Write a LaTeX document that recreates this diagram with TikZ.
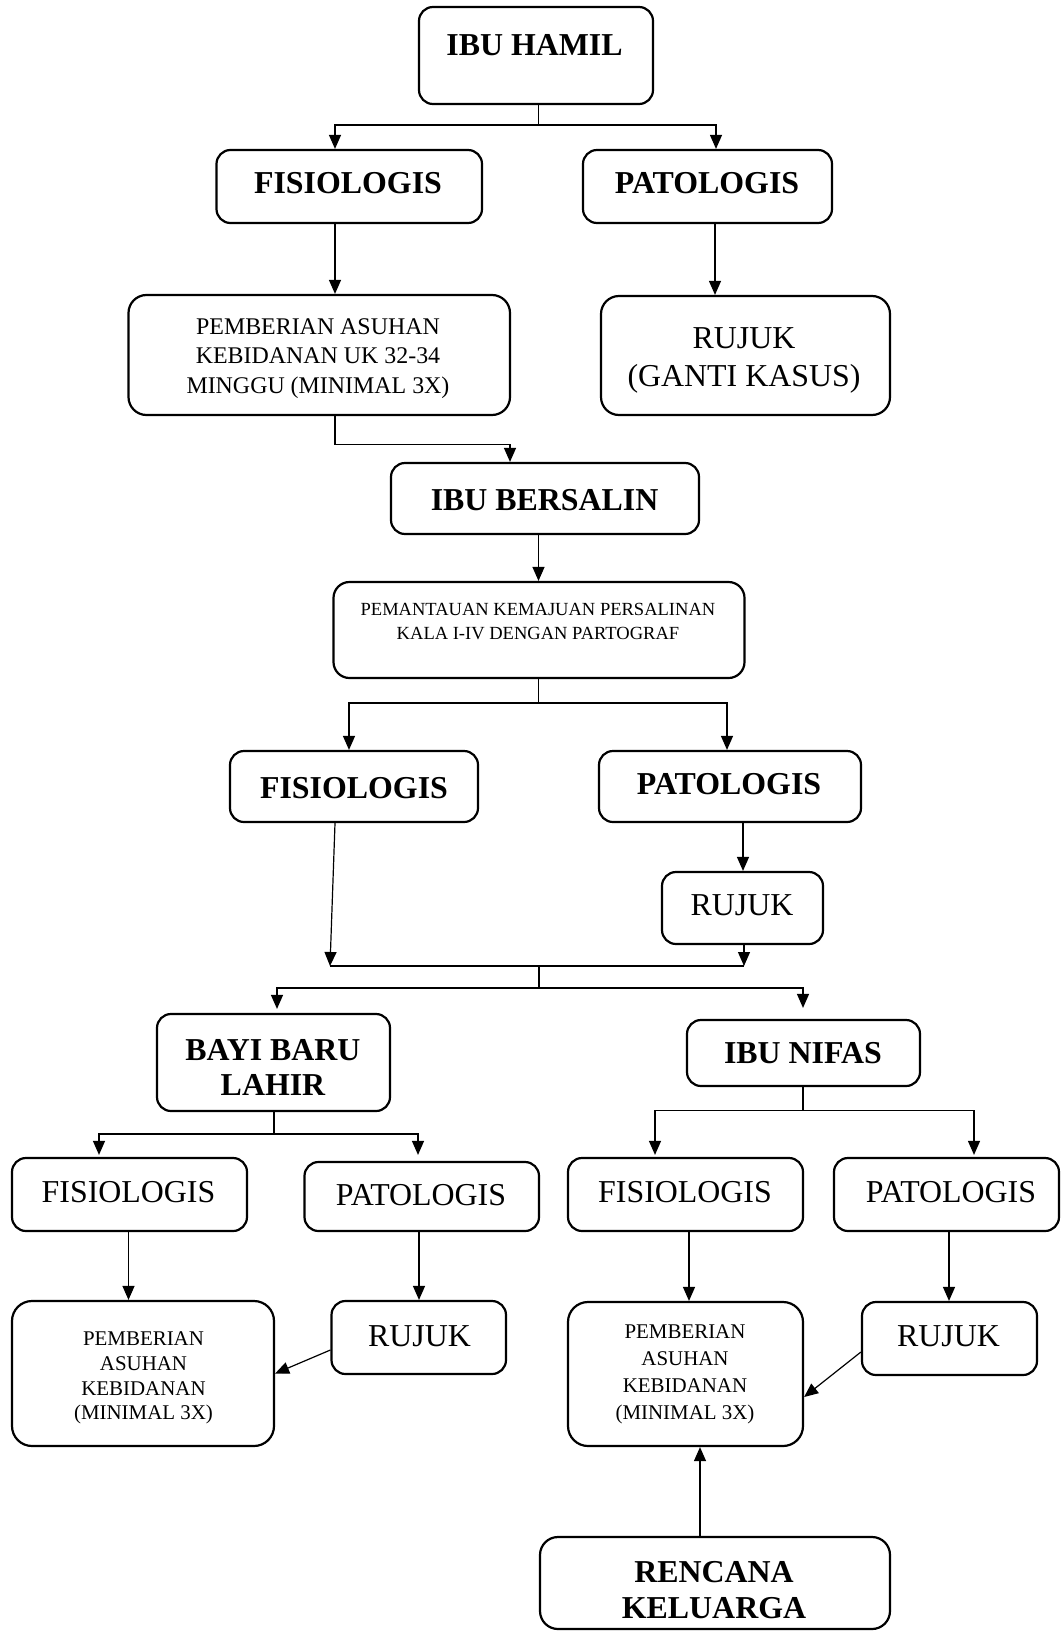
\documentclass[tikz,border=0pt]{standalone}
\usepackage{fontspec}
\setmainfont{Liberation Serif}
\usetikzlibrary{arrows.meta}
\newcommand\fB{\fontsize{32}{36}\selectfont\bfseries}
\newcommand\fR{\fontsize{32}{39}\selectfont}
\newcommand\fM{\fontsize{24}{29.5}\selectfont}
\newcommand\fS{\fontsize{18.6}{24}\selectfont}
\newcommand\fP{\fontsize{21}{24.7}\selectfont}
\newcommand\fQ{\fontsize{21}{27}\selectfont}
\newcommand\bx[6][14bp]{\node[box,rounded corners=#1,minimum width=#5bp,minimum height=#6bp] (#2) at (#3,#4) {};}
\tikzset{
  box/.style={draw, line width=2.2bp, inner sep=0pt, fill=white},
  txt/.style={align=center, inner sep=0pt},
  ln/.style={line width=1.2bp},
  arr/.style={line width=1.2bp, -{Triangle[length=14bp,width=12bp]}}
}
\begin{document}
\begin{tikzpicture}[x=1bp,y=-1bp]
\useasboundingbox[fill=white] (0,0) rectangle (1061,1631);
% boxes
\bx{hamil}{536}{55.5}{234}{97}
\bx{fis1}{349.25}{186.5}{265.5}{73}
\bx{pat1}{707.5}{186.5}{249}{73}
\bx[18bp]{pem1}{319.25}{355}{381.5}{120}
\bx[18bp]{rujgk}{745.5}{355.5}{289}{119}
\bx{bers}{545}{498.5}{308}{71}
\bx[16bp]{pant}{539}{630}{411}{96}
\bx{fis2}{354}{786.5}{248}{71}
\bx{pat2}{730}{786.5}{262}{71}
\bx{ruj2}{742.5}{908}{161}{72}
\bx{bayi}{273.5}{1062.5}{233}{97}
\bx{nifas}{803.5}{1053}{233}{66}
\bx{fis3}{129.5}{1194.5}{235}{73}
\bx{pat3}{421.75}{1196.5}{234.5}{69}
\bx{fis4}{685.5}{1194.5}{235}{73}
\bx{pat4}{946.5}{1194.5}{225}{73}
\bx[20bp]{pem2}{143}{1373.5}{262}{145}
\bx{ruj3}{418.75}{1337.5}{174.5}{73}
\bx[20bp]{pem3}{685.5}{1374}{235}{144}
\bx{ruj4}{949.5}{1338.5}{175}{73}
\bx[18bp]{renc}{715}{1583}{350}{92}
% texts
\node[txt,font=\fB] (tHamil) at (534.5,45) {IBU HAMIL};
\node[txt,font=\fB] (tFis1) at (348,183) {FISIOLOGIS};
\node[txt,font=\fB] (tPat1) at (707,183) {PATOLOGIS};
\node[txt,font=\fM] (tPem1) at (318,358.5) {PEMBERIAN ASUHAN\\KEBIDANAN UK 32-34\\MINGGU (MINIMAL 3X)};
\node[txt,font=\fR] (tRujgk) at (744,360.5) {RUJUK\\(GANTI KASUS)};
\node[txt,font=\fB] (tBers) at (544.6,500) {IBU BERSALIN};
\node[txt,font=\fS] (tPant) at (538,621.6) {PEMANTAUAN KEMAJUAN PERSALINAN\\KALA I-IV DENGAN PARTOGRAF};
\node[txt,font=\fB] (tFis2) at (354,788) {FISIOLOGIS};
\node[txt,font=\fB] (tPat2) at (729,784) {PATOLOGIS};
\node[txt,font=\fR] (tRuj2) at (742,905) {RUJUK};
\node[txt,font=\fB] (tBayi) at (273,1067.5) {BAYI BARU\\LAHIR};
\node[txt,font=\fB] (tNifas) at (803,1053) {IBU NIFAS};
\node[txt,font=\fR] (tFis3) at (128.5,1192) {FISIOLOGIS};
\node[txt,font=\fR] (tPat3) at (421,1195) {PATOLOGIS};
\node[txt,font=\fR] (tFis4) at (685,1192) {FISIOLOGIS};
\node[txt,font=\fR] (tPat4) at (951,1192) {PATOLOGIS};
\node[txt,font=\fP] (tPem2) at (143.5,1378) {PEMBERIAN\\ASUHAN\\KEBIDANAN\\(MINIMAL 3X)};
\node[txt,font=\fR] (tRuj3) at (419.5,1336) {RUJUK};
\node[txt,font=\fQ] (tPem3) at (685,1374.5) {PEMBERIAN\\ASUHAN\\KEBIDANAN\\(MINIMAL 3X)};
\node[txt,font=\fR] (tRuj4) at (948.5,1336) {RUJUK};
\node[txt,font=\fB] (tRenc) at (714,1590) {RENCANA\\KELUARGA};
% connectors
\coordinate (j1) at (538.5,125);
\draw[ln] (hamil.south -| j1) -- (j1);
\draw[arr] (j1) -| (335,0 |- fis1.north);
\draw[arr] (j1) -| (716,0 |- pat1.north);
\draw[arr] (335,0 |- fis1.south) -- (335,0 |- pem1.north);
\draw[arr] (715,0 |- pat1.south) -- (715,0 |- rujgk.north);
\coordinate (j2) at (510,444.5);
\draw[arr] (335,0 |- pem1.south) |- (j2) -- (510,0 |- bers.north);
\draw[arr] (538.5,0 |- bers.south) -- (538.5,0 |- pant.north);
\coordinate (j3) at (538.5,703);
\draw[ln] (pant.south -| j3) -- (j3);
\draw[arr] (j3) -| (349,0 |- fis2.north);
\draw[arr] (j3) -| (727,0 |- pat2.north);
\draw[arr] (743,0 |- pat2.south) -- (743,0 |- ruj2.north);
\coordinate (cL) at (330,966);
\coordinate (cR) at (744,966);
\draw[arr] (335,0 |- fis2.south) -- (cL);
\draw[arr] (744,0 |- ruj2.south) -- (cR);
\draw[ln] (cL) -- (cR);
\coordinate (j4) at (539,988);
\draw[ln] (cL -| j4) -- (j4);
\draw[arr, shorten >=4bp] (j4) -| (277,0 |- bayi.north);
\draw[arr, shorten >=11bp] (j4) -| (803,0 |- nifas.north);
\coordinate (j5) at (274,1134);
\draw[ln] (bayi.south -| j5) -- (j5);
\draw[arr, shorten >=2bp] (j5) -| (99,0 |- fis3.north);
\draw[arr, shorten >=6bp] (j5) -| (418,0 |- pat3.north);
\coordinate (j6) at (803,1110.5);
\draw[ln] (nifas.south -| j6) -- (j6);
\draw[arr, shorten >=2bp] (j6) -| (655,0 |- fis4.north);
\draw[arr, shorten >=2bp] (j6) -| (974,0 |- pat4.north);
\draw[arr] (128.5,0 |- fis3.south) -- (128.5,0 |- pem2.north);
\draw[arr] (419,0 |- pat3.south) -- (419,0 |- ruj3.north);
\draw[arr] (689,0 |- fis4.south) -- (689,0 |- pem3.north);
\draw[arr] (949,0 |- pat4.south) -- (949,0 |- ruj4.north);
\draw[arr] ([yshift=-12.5bp]ruj3.west) -- (pem2.east);
\draw[arr] ([yshift=-13.5bp]ruj4.west) -- ([yshift=-23bp]pem3.east);
\draw[arr] (700,0 |- renc.north) -- (700,0 |- pem3.south);
\end{tikzpicture}
\end{document}
